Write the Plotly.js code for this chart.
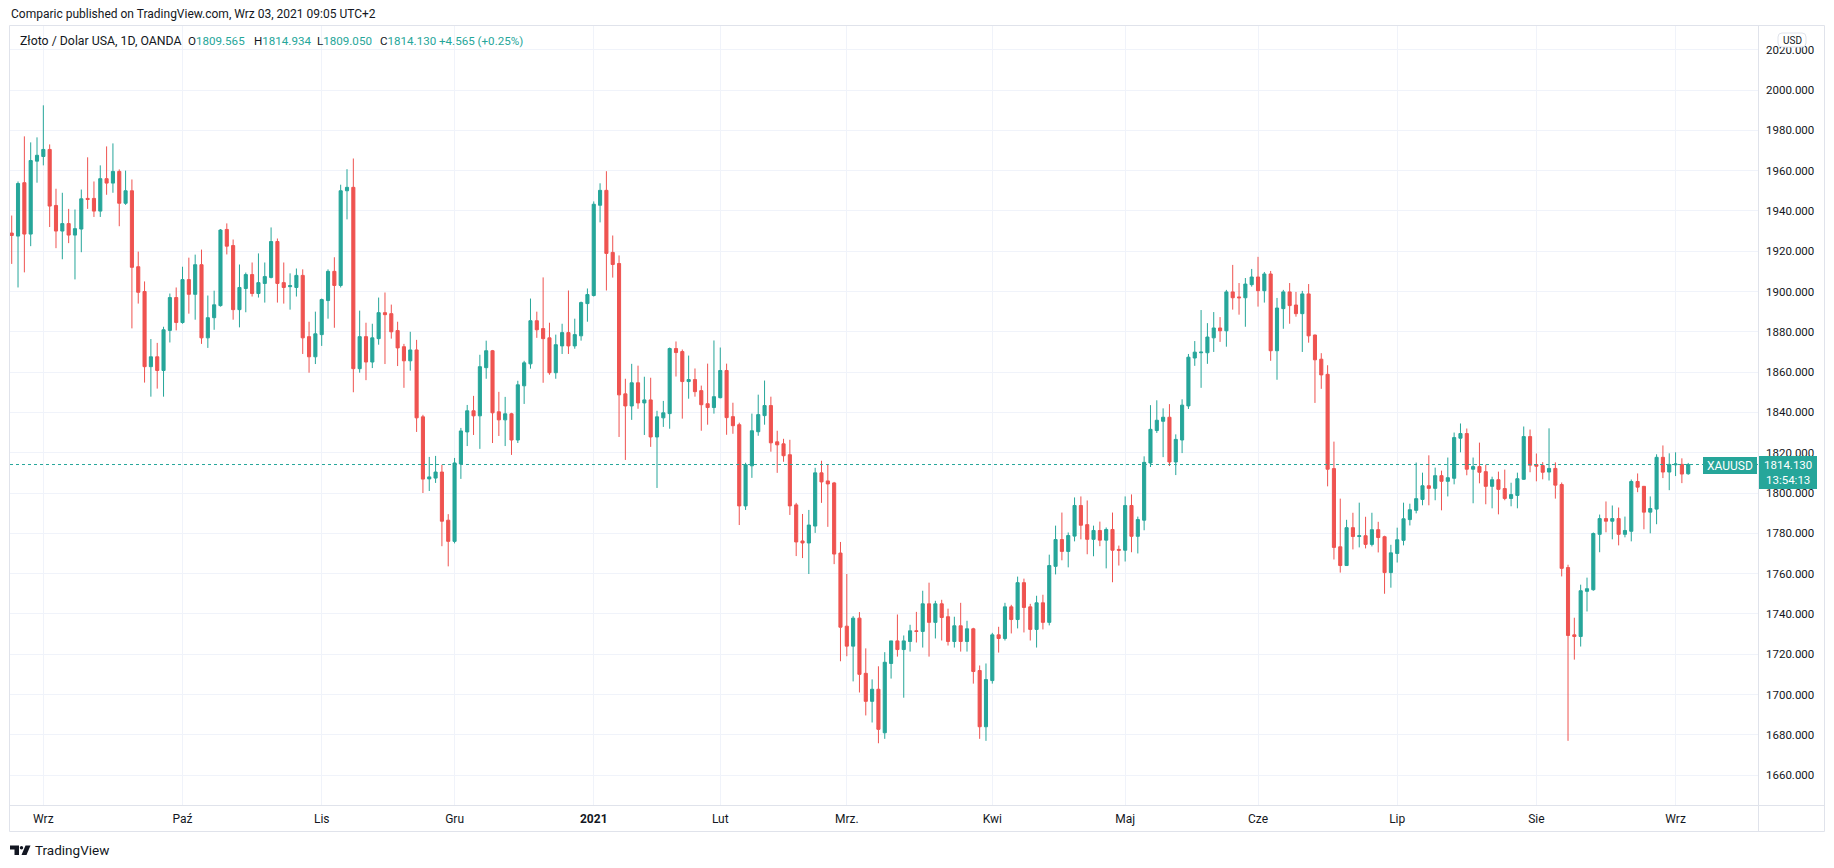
<!DOCTYPE html>
<html><head><meta charset="utf-8">
<script src="https://cdn.plot.ly/plotly-3.0.1.min.js"></script>
<style>html,body{margin:0;padding:0;background:#fff;}#chart{width:1834px;height:868px;}</style>
</head><body><div id="chart"></div>
<script>
// ---- DATA: XAUUSD daily (OANDA), 2020-08-25 .. 2021-09-03 ----
const openP = [
1929,1927.5,1954,1928.5,1964.7,1967,1970.5,1942.7,1930,1933.7,
1928,1931,1946.2,1946.2,1939.9,1956,1953.8,1959.6,1943.8,1950,
1912.3,1900,1862.7,1867.6,1860.8,1880.7,1897,1884.6,1905.9,1898.6,
1913.3,1877,1887,1893,1930.8,1922.8,1891,1901.5,1908.4,1899,
1904,1907,1924.8,1904.4,1902.4,1902,1908,1877.6,1867.6,1878.6,
1895.5,1910,1903,1950,1951.7,1861.7,1877.6,1865,1876.6,1889.5,
1889,1880.6,1872.6,1865.6,1871,1837.8,1807,1807.4,1810.4,1786.5,
1776,1814.4,1830.3,1840.8,1838.3,1862.2,1870.6,1840.3,1836.3,1839.3,
1826.3,1853.2,1864.1,1885.5,1881.6,1877,1859.7,1873,1879.6,1873,
1878,1894,1898,1942.8,1950.2,1919.4,1913.9,1849.2,1843.2,1854.7,
1844.7,1846.2,1827.8,1837.3,1839.4,1871.7,1870.2,1855.3,1856.3,1850.8,
1844.3,1842.4,1847.3,1860.8,1837.9,1833.9,1793.6,1813.5,1830.4,1838.4,
1843.4,1825.4,1824.4,1819,1794.1,1776.2,1775.2,1783.6,1810,1806,
1805,1770.2,1733.9,1724,1737.9,1710.5,1696.6,1702.6,1681,1715.4,
1726.6,1722.3,1726.3,1731.6,1731.3,1745,1735.8,1745,1738.6,1726.3,
1734.1,1726.3,1732.6,1711.9,1684,1706.9,1729.6,1727.8,1743.5,1737.2,
1755.5,1743.5,1732.3,1745.5,1735.8,1763.6,1776.9,1771,1778.6,1793.8,
1784.3,1777,1781.4,1776.6,1781.9,1772,1771.6,1793.8,1778.5,1786.5,
1814.9,1831,1835.6,1837.6,1815.4,1826.3,1843.2,1867,1869.6,1869.6,
1877,1881.9,1880.5,1899.8,1897.3,1896.9,1903.4,1907.2,1900.4,1908.7,
1870.6,1891.5,1899.8,1893.3,1889,1898.8,1878.4,1866.4,1858.9,1812.1,
1773.3,1764,1782.8,1778.4,1778.8,1774.5,1781.8,1778.3,1760.5,1770,
1776.5,1786.8,1791.4,1796.8,1803.6,1802.3,1808.6,1805.8,1807.3,1827.2,
1829.5,1811.8,1813.1,1810.6,1803.3,1806.6,1802.2,1797.3,1798.8,1806.8,
1828,1814.1,1813.6,1810.4,1812.2,1804.2,1763,1729.6,1728.8,1751.2,
1752,1779.5,1787.3,1786,1787.3,1779.5,1781,1805.7,1803.3,1790.5,
1792,1817.7,1810.4,1814,1814.2,1809.565];
const highP = [
1937.7,1954.6,1977,1974,1976.5,1992.4,1973,1951,1949,1941,
1940.7,1950.6,1966.6,1954.6,1962.6,1972,1973.5,1960.6,1960,1955.6,
1919.8,1905,1876.4,1874.5,1882.5,1899,1902,1912.3,1916.8,1918.3,
1920.8,1898,1900.4,1931,1933.8,1925.8,1913.4,1909.4,1914.4,1918.9,
1914.4,1931.8,1926.3,1914.4,1909,1911.4,1911,1885,1890,1896.5,
1911,1917,1953,1960.7,1966,1890.5,1884.5,1884,1897,1899.5,
1893.5,1885,1874,1880,1876,1838.8,1817.9,1818.4,1814,1789.5,
1817.4,1832.3,1843.7,1848.2,1868.6,1875.6,1871,1850.2,1847.7,1839.8,
1855.7,1865.6,1896.5,1890,1907,1884.5,1878.6,1884,1900.5,1886.5,
1895,1901.5,1944.7,1953.7,1959.7,1927.8,1917.9,1856.7,1864.1,1863.2,
1857.7,1857.2,1840.8,1845.7,1872.2,1875.2,1871.2,1868.2,1861.8,1853.3,
1864.2,1875.7,1872.2,1864.2,1844.8,1834.9,1815,1839.4,1848.8,1855.8,
1847.8,1830.9,1826.9,1826.4,1795.1,1789.6,1791.6,1812.5,1816,1814,
1805.5,1775.7,1759.8,1738.9,1740.9,1722.9,1707.5,1714,1721,1726.6,
1739.7,1729.3,1734.6,1741,1751.5,1755.5,1746.5,1747,1742.6,1738.6,
1745.5,1736.6,1733.1,1714.4,1715.4,1730.6,1733.6,1745.5,1744.5,1758.5,
1757.5,1745,1749,1749.5,1769.4,1783.8,1790.3,1780.4,1797.8,1798.3,
1796.3,1783.8,1785.8,1782.9,1790.3,1773.9,1798.3,1799.3,1788.3,1818.2,
1843.6,1846,1842,1844.1,1829.1,1846.5,1869,1875.4,1890.8,1884.3,
1889.8,1887.3,1900.8,1913.2,1904.2,1906.7,1911.2,1917.2,1909.7,1910.2,
1896.8,1900.8,1904.2,1899.8,1900.3,1903.7,1878.6,1869.4,1863.4,1825.5,
1797.2,1786.7,1790.2,1795.2,1788.2,1790.2,1785.7,1778.8,1774.3,1782.8,
1795.2,1794.7,1815.1,1810.1,1818.7,1812.6,1811.1,1817.6,1830,1834.5,
1832,1817.6,1825,1814.1,1808.1,1810.6,1811.6,1805.1,1810.1,1833,
1831.5,1819.6,1815.3,1832.1,1815.2,1805.2,1764.4,1738.1,1754.5,1758,
1780.4,1789.3,1795.8,1793.8,1792.8,1788.3,1806.7,1809.7,1803.5,1798.3,
1819.2,1823.6,1819.7,1820.2,1817.2,1814.934];
const lowP = [
1913.7,1902,1909.5,1922.5,1954,1962.6,1932,1921.5,1916,1924,
1906,1919.5,1941,1937,1937,1948,1949,1932.4,1943,1881.7,
1894,1854.8,1847.8,1851.8,1847.8,1874.7,1880.7,1884,1889,1886,
1874,1872,1881,1892.5,1918.4,1886,1882.2,1889.7,1897.5,1897,
1894.5,1906.5,1894.5,1894,1891,1897.5,1869,1859.7,1864,1873,
1886.5,1882,1902,1935.8,1850,1859.7,1856,1862,1873.6,1864,
1876.6,1863,1852.2,1860.7,1830.3,1800,1801,1805,1773.6,1763.6,
1775,1807,1823.3,1828.8,1821.9,1856.7,1824.8,1828.3,1823.3,1818.9,
1824.8,1844.2,1861.7,1877,1854.7,1858.7,1856.7,1869,1869,1871.6,
1875.6,1885,1897.5,1934.3,1900.5,1906.9,1827.8,1816.4,1836.3,1841.8,
1828.8,1822.9,1802.5,1832.8,1831.9,1857.8,1836.9,1846.8,1847.8,1830.9,
1833.9,1839.4,1847,1828.9,1829.4,1784.1,1791.6,1807.5,1828.4,1833.9,
1820.5,1810,1815.5,1789.1,1768.7,1767.7,1759.8,1780.2,1795.1,1783.2,
1764.7,1716.5,1719,1706.5,1701,1689.6,1686.1,1675.8,1678,1707.9,
1718.8,1698.4,1721.3,1725.8,1723.3,1718.8,1727.8,1726.8,1724.3,1723.3,
1721.3,1721.3,1705.4,1678,1677,1705.4,1720.8,1726.8,1730.3,1732.8,
1730.8,1726.8,1723.3,1732.3,1734.3,1759.6,1766.6,1763.1,1776,1777,
1769.6,1768.6,1773.6,1762.6,1755.7,1764,1766,1770.6,1770,1781.5,
1812.9,1829.8,1817.8,1813.4,1808.9,1819.8,1841.7,1863.1,1852.2,1864.1,
1870,1875,1872.6,1891,1888.5,1882.5,1902.4,1892.5,1894.5,1865.6,
1856.2,1881.5,1884,1887.5,1870,1874.6,1844.7,1851.7,1803.3,1767,
1760.5,1763.8,1772,1773,1772.5,1773.5,1770.5,1750,1753,1765.5,
1774,1783.9,1789.9,1793.9,1793.9,1796.4,1791.4,1798.3,1804.3,1820.2,
1808.8,1794.9,1804.8,1794.4,1792.4,1789.4,1796.4,1793.4,1792.4,1806.5,
1810.3,1805.8,1806.8,1806.2,1797.2,1758.6,1677,1717.3,1723.8,1741.2,
1751.5,1770.6,1780.5,1777,1774,1778,1776,1800.4,1782,1780,
1784.5,1807.4,1801.4,1808.4,1804.9,1809.05];
const closeP = [
1927.8,1953.6,1928.5,1965,1967.6,1970.5,1942.4,1930,1933.7,1928,
1931.2,1946,1945.7,1939.9,1956,1953.8,1959.6,1943.8,1950,1912,
1899.6,1862.7,1867.6,1860.8,1881,1897,1884.6,1905.9,1898.6,1913.3,
1877,1887,1893.4,1930.5,1922.5,1891,1902,1908.4,1899,1904.4,
1907.4,1924.8,1904,1902,1902.9,1908,1877,1867.6,1879,1896,
1910,1903,1950,1951.7,1861.7,1877.6,1865,1877,1889.5,1888.5,
1880,1872,1865.6,1871,1837.3,1806.9,1808,1810.4,1786,1776,
1814.9,1830.8,1840.8,1838.3,1862.7,1870.6,1839.8,1836.3,1839.3,1826.3,
1853.7,1864.6,1885.5,1881,1876.6,1859.7,1873.6,1879.6,1873,1878.6,
1894.5,1898.5,1943.3,1950.2,1918.9,1913.4,1848.7,1843.2,1854.7,1844.7,
1846.2,1827.8,1837.8,1839.8,1871.7,1869.7,1855.3,1856.3,1850.3,1843.8,
1842.4,1847.8,1860.8,1837.4,1833.4,1793.6,1814,1830.9,1838.9,1843.4,
1824.9,1823.9,1818.5,1793.6,1775.7,1775.2,1784.1,1810,1805.5,1804.5,
1769.7,1733.4,1724,1737.9,1710,1696.6,1702.6,1682.7,1716,1726.6,
1722.3,1726.6,1731.6,1731.3,1745,1735.8,1745,1738.2,1726.3,1734.1,
1726.3,1732.6,1711.4,1684,1707.4,1729.6,1727.8,1743.5,1737.2,1755.5,
1743.2,1732.3,1745.5,1735.8,1764,1776.9,1771,1778.9,1793.8,1784,
1777,1781.4,1776.6,1781.9,1771.6,1771.6,1793.8,1778.5,1786.8,1815.2,
1831.6,1836.1,1837.6,1815.4,1826.6,1843.6,1867.4,1869.9,1869.9,1877.4,
1881.9,1880.5,1899.8,1896.9,1896.9,1903.7,1907.2,1900.4,1908.7,1870.6,
1891.8,1899.8,1893,1889,1898.8,1878,1866.1,1858.6,1811.8,1773,
1764,1782.8,1778.4,1778.8,1774.5,1781.8,1777.9,1760.5,1770.3,1776.8,
1787.2,1791.7,1797.2,1803.6,1802.3,1808.6,1805.8,1807.6,1827.5,1829.5,
1811.8,1813.1,1810.3,1803.3,1806.6,1801.8,1797.3,1799.2,1807.1,1828,
1813.8,1813.3,1810.3,1812.2,1803.9,1762.6,1729.3,1728.8,1751.5,1752.5,
1779.9,1787.3,1786,1787.3,1779.5,1781.4,1805.7,1802.9,1790.5,1792.3,
1817.7,1810.4,1814.2,1814.4,1809.4,1814.13];

const firstDay = '2020-08-25', lastDay = '2021-09-03';
const closedDays = ['2020-12-25','2021-01-01','2021-04-02'];
const monthStarts = ['2020-09-01','2020-10-01','2020-11-02','2020-12-01','2021-01-04','2021-02-01','2021-03-01','2021-04-01','2021-05-03','2021-06-01','2021-07-01','2021-08-02','2021-09-01'];
const monthLabels = ['Wrz','Paź','Lis','Gru','<b>2021</b>','Lut','Mrz.','Kwi','Maj','Cze','Lip','Sie','Wrz'];
const lastPrice = 1814.13;
const legendName = 'Złoto / Dolar USA, 1D, OANDA';
const legendOHLC = [['O','1809.565'],['H','1814.934'],['L','1809.050'],['C','1814.130']];
const legendChange = '+4.565 (+0.25%)';

// trading-day calendar (weekdays minus closed days)
function tradingDays(a, b, skip){
  const out = []; let d = new Date(a+'T00:00:00Z'); const e = new Date(b+'T00:00:00Z');
  while (d <= e){
    const wd = d.getUTCDay(), s = d.toISOString().slice(0,10);
    if (wd !== 0 && wd !== 6 && skip.indexOf(s) < 0) out.push(s);
    d = new Date(d.getTime() + 86400000);
  }
  return out;
}
const dates = tradingDays(firstDay, lastDay, closedDays);

// ---- layout geometry (pixels) ----
const L = 10, R = 1758, T = 25, B = 805;
const px = X => (X - L) / (R - L);
const py = Y => (B - Y) / (B - T);
const FONT = 'Roboto, "Open Sans", sans-serif';
const GREEN = '#26a69a', RED = '#ef5350', TXT = '#131722', BORDER = '#e0e3eb';

const trace = {
  type: 'candlestick', x: dates, open: openP, high: highP, low: lowP, close: closeP,
  increasing: {line: {color: GREEN, width: 1}, fillcolor: GREEN},
  decreasing: {line: {color: RED, width: 1}, fillcolor: RED},
  whiskerwidth: 0, hoverinfo: 'skip', showlegend: false
};

function rectPaper(x0, y0, x1, y1, fill, line){
  return {type:'rect', xref:'paper', yref:'paper', x0:px(x0), x1:px(x1), y0:py(y1), y1:py(y0),
    fillcolor: fill, line: line || {width:0}, layer:'above'};
}
function linePaper(x0, y0, x1, y1, color){
  return {type:'line', xref:'paper', yref:'paper', x0:px(x0), x1:px(x1), y0:py(y0), y1:py(y1),
    line:{color: color, width:1}, layer:'above'};
}
function pathPaper(pts, fill){
  const d = pts.map((p,i) => (i ? 'L' : 'M') + px(p[0]) + ',' + py(p[1])).join(' ') + ' Z';
  return {type:'path', xref:'paper', yref:'paper', path:d, fillcolor:fill, line:{width:0}, layer:'above'};
}
function roundRect(x0, y0, x1, y1, r, fill, lineColor){
  const p = (x,y) => px(x) + ',' + py(y);
  const d = 'M' + p(x0+r,y0) + ' L' + p(x1-r,y0) + ' Q' + p(x1,y0) + ' ' + p(x1,y0+r) +
    ' L' + p(x1,y1-r) + ' Q' + p(x1,y1) + ' ' + p(x1-r,y1) + ' L' + p(x0+r,y1) +
    ' Q' + p(x0,y1) + ' ' + p(x0,y1-r) + ' L' + p(x0,y0+r) + ' Q' + p(x0,y0) + ' ' + p(x0+r,y0) + ' Z';
  return {type:'path', xref:'paper', yref:'paper', path:d, fillcolor:fill, line:{color:lineColor, width:1}, layer:'above'};
}

const shapes = [
  {type:'line', xref:'paper', yref:'y', x0:0, x1:1, y0:lastPrice, y1:lastPrice,
   line:{color:GREEN, width:1, dash:'dot'}, layer:'above'},
  // frame
  linePaper(9.5, 25.5, 1824.5, 25.5, BORDER),
  linePaper(9.5, 831.5, 1824.5, 831.5, BORDER),
  linePaper(9.5, 25.5, 9.5, 831.5, BORDER),
  linePaper(1824.5, 25.5, 1824.5, 831.5, BORDER),
  linePaper(1758.5, 25.5, 1758.5, 831.5, BORDER),
  linePaper(9.5, 805.5, 1824.5, 805.5, BORDER),
  // labels
  rectPaper(1703, 457, 1757, 474, GREEN),
  rectPaper(1759, 456, 1817, 489, GREEN),
  roundRect(1778, 33, 1806, 47, 4, '#ffffff', BORDER),
  // TradingView logo
  pathPaper([[10,845.5],[19,845.5],[19,855],[14.5,855],[14.5,849.5],[10,849.5]], TXT),
  {type:'circle', xref:'paper', yref:'paper', x0:px(19.8), x1:px(23.2), y0:py(849.5), y1:py(846), fillcolor:TXT, line:{width:0}, layer:'above'},
  pathPaper([[25.5,845.5],[30.5,845.5],[26.5,855],[21.5,855]], TXT)
];

function txt(x, y, text, size, color, anchor){
  return {xref:'paper', yref:'paper', x:px(x), y:py(y), xanchor:anchor || 'left', yanchor:'middle',
    showarrow:false, text:text, font:{family:FONT, size:size, color:color}};
}
const legendX = [186, 252, 315, 377.5];
const annotations = [
  txt(9, 14, 'Comparic published on TradingView.com, Wrz 03, 2021 09:05 UTC+2', 12, TXT),
  txt(18, 41, legendName, 12.3, TXT),
  ...legendOHLC.map((kv, i) => txt(legendX[i], 41, kv[0] + '<span style="color:' + GREEN + '">' + kv[1] + '</span>', 11.6, TXT)),
  txt(437, 41, legendChange, 11.6, GREEN),
  txt(1730, 465.5, 'XAUUSD', 12, '#ffffff', 'center'),
  txt(1788, 472.5, '1814.130<br>13:54:13', 11.5, '#ffffff', 'center'),
  txt(1792, 40, 'USD', 10, TXT, 'center'),
  txt(33, 850, 'TradingView', 13.5, TXT)
];

const layout = {
  width: 1834, height: 868,
  margin: {l: L, r: 1834 - R, t: T, b: 868 - B, pad: 0},
  paper_bgcolor: '#ffffff', plot_bgcolor: '#ffffff',
  font: {family: FONT, color: TXT},
  showlegend: false,
  xaxis: {type:'category', range:[-0.27, 276.03], autorange:false,
    tickmode:'array', tickvals: monthStarts, ticktext: monthLabels,
    showgrid:true, gridcolor:'#f0f3fa', gridwidth:1, ticks:'', showline:false, zeroline:false,
    tickfont:{family:FONT, size:12, color:TXT}, ticklabelstandoff:5,
    rangeslider:{visible:false}, fixedrange:true},
  yaxis: {side:'right', range:[1645.16, 2032.26], autorange:false, dtick:20, tick0:0,
    tickformat:'.3f', showgrid:true, gridcolor:'#f0f3fa', gridwidth:1, ticks:'',
    showline:false, zeroline:false, tickfont:{family:FONT, size:11.5, color:TXT},
    ticklabelstandoff:7, fixedrange:true},
  shapes: shapes,
  annotations: annotations
};

Plotly.newPlot('chart', [trace], layout, {displayModeBar:false, staticPlot:true});
</script>
</body></html>
